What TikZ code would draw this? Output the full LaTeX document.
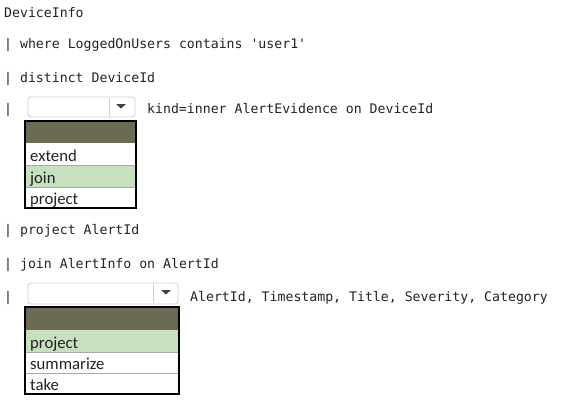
\documentclass[tikz,border=0pt]{standalone}
\usepackage{fontspec}
\newfontfamily\qmono{DejaVu Sans Mono}
\newfontfamily\qsans{Carlito}
\newcommand{\qcode}{\qmono\fontsize{13.2pt}{15pt}\selectfont}
\newcommand{\qitem}{\qsans\fontsize{16.7pt}{18pt}\selectfont}
\definecolor{codegray}{HTML}{222222}
\definecolor{headolive}{HTML}{6B6A53}
\definecolor{pickgreen}{HTML}{C6E0C0}
\definecolor{comboedge}{HTML}{CACAEA}
\definecolor{rowline}{HTML}{A8A8A8}
\tikzset{
    code/.style={anchor=base west, inner sep=0pt, font=\qcode, text=codegray},
    combo/.style={draw=comboedge, rounded corners=3pt, line width=0.8pt},
    listbox/.style={draw=black, line width=1.6pt},
    item/.style={anchor=base west, inner sep=0pt, font=\qitem, text=codegray}
}
\begin{document}
\begin{tikzpicture}[x=1pt, y=-1pt]
        \useasboundingbox (0,0) rectangle (566,405);
        % query lines
        \node[code] (l1) at (4,17) {DeviceInfo};
        \node[code] (l2) at (4,48) {| where LoggedOnUsers contains 'user1'};
        \node[code] (l3) at (4,82) {| distinct DeviceId};
        \node[code] (p4) at (4,113) {|};
        \node[code] (l4) at (147,113) {kind=inner AlertEvidence on DeviceId};
        \node[code] (l5) at (4,234) {| project AlertId};
        \node[code] (l6) at (4,268) {| join AlertInfo on AlertId};
        \node[code] (p7) at (4,301) {|};
        \node[code] (l7) at (190,301) {AlertId, Timestamp, Title, Severity, Category};
        % first drop-down
        \draw[combo] (28,97) rectangle (135,117);
        \draw[comboedge, line width=0.8pt] (109.5,98) -- (109.5,116);
        \fill[black!75] (116,104) -- (126,104) -- (121,108.5) -- cycle;
        \fill[headolive] (25,121) rectangle (136,143);
        \fill[pickgreen] (25,165) rectangle (136,187);
        \draw[rowline] (25,165) -- (136,165);
        \draw[rowline] (25,187) -- (136,187);
        \draw[listbox] (25,121) rectangle (136,208);
        \node[item] (a1) at (30,161) {extend};
        \node[item] (a2) at (30,183) {join};
        \node[item] (a3) at (30,204) {project};
        % second drop-down
        \draw[combo] (28,283) rectangle (178,304);
        \draw[comboedge, line width=0.8pt] (153,284) -- (153,303);
        \fill[black!75] (161,290) -- (171,290) -- (166,294.5) -- cycle;
        \fill[headolive] (25,307) rectangle (179,330);
        \fill[pickgreen] (25,330) rectangle (179,352);
        \draw[rowline] (25,352) -- (179,352);
        \draw[rowline] (25,373) -- (179,373);
        \draw[listbox] (25,307) rectangle (179,394);
        \node[item] (b1) at (30,348) {project};
        \node[item] (b2) at (30,369) {summarize};
        \node[item] (b3) at (30,390) {take};
    \end{tikzpicture}
\end{document}
